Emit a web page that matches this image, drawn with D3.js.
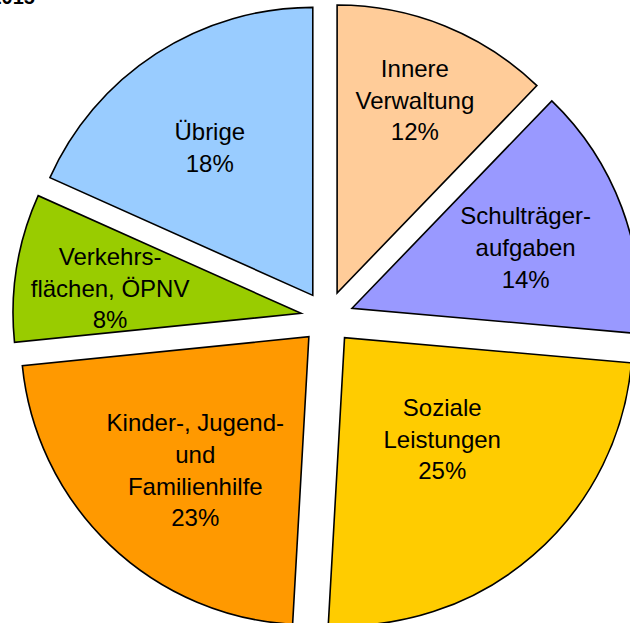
<!DOCTYPE html>
<html>
<head>
<meta charset="utf-8">
<script src="https://cdn.jsdelivr.net/npm/d3@7"></script>
<style>
  body { margin: 0; background: #fff; }
  svg { display: block; }
</style>
</head>
<body>
<svg id="vis" width="630" height="623"></svg>
<script>
// slice data, clockwise from 12 o'clock (shares in %)
const categories = ["Innere Verwaltung", "Schulträgeraufgaben", "Soziale Leistungen",
    "Kinder-, Jugend- und Familienhilfe", "Verkehrsflächen, ÖPNV", "Übrige"];
const shares = [12.2, 14.2, 24.5, 22.5, 8.3, 18.3];
const labelLines = [
    ["Innere", "Verwaltung"],
    ["Schulträger-", "aufgaben"],
    ["Soziale", "Leistungen"],
    ["Kinder-, Jugend-", "und", "Familienhilfe"],
    ["Verkehrs-", "flächen, ÖPNV"],
    ["Übrige"]
];
const colors = ["#ffcc99", "#9999ff", "#ffcc00", "#ff9900", "#99cc00", "#99ccff"];
const titleText = "2015";

// layout
const width = 630, height = 623;
const cx = 327.2, cy = 317.6;
const radius = 288;
const explode = 26.5;
// label placement relative to each slice tip: distance and small angle nudge (deg)
const labelDist = [208, 184, 141, 175.5, 192.6, 180.3];
const labelNudge = [0, 1.2, -3, -3.4, -1.7, -1.9];
const lineHeight = 31.7;

const svg = d3.select("svg#vis");

svg.append("text")
    .attr("x", 35)
    .attr("y", 4)
    .attr("text-anchor", "end")
    .style("font-family", "'Liberation Sans', Arial, sans-serif")
    .style("font-weight", "bold")
    .style("font-size", "20px")
    .text(titleText);

const pie = d3.pie().sort(null).value(d => d.value);
const arcs = pie(shares.map((v, i) => ({ value: v, i })));

const arc = d3.arc().innerRadius(0).outerRadius(radius);

const slices = svg.append("g")
    .attr("transform", `translate(${cx},${cy})`)
    .selectAll("g")
    .data(arcs)
    .enter()
    .append("g")
    .attr("transform", d => {
        let mid = (d.startAngle + d.endAngle) / 2;
        return `translate(${explode * Math.sin(mid)},${-explode * Math.cos(mid)})`;
    });

slices.append("path")
    .attr("d", arc)
    .attr("fill", d => colors[d.data.i])
    .attr("stroke", "#000")
    .attr("stroke-width", 1.6)
    .attr("stroke-linejoin", "miter");

slices.each(function (d) {
    let i = d.data.i;
    let mid = (d.startAngle + d.endAngle) / 2 + labelNudge[i] * Math.PI / 180;
    let dist = labelDist[i];
    let lines = labelLines[i].concat([Math.round(d.data.value) + "%"]);
    let x = dist * Math.sin(mid);
    let y = -dist * Math.cos(mid);
    let top = y - (lines.length - 1) * lineHeight / 2;
    let t = d3.select(this).append("text")
        .attr("text-anchor", "middle")
        .style("font-family", "'Liberation Sans', Arial, sans-serif")
        .style("font-size", "24px")
        .attr("fill", "#000");
    lines.forEach((ln, k) => {
        t.append("tspan")
            .attr("x", x)
            .attr("y", top + k * lineHeight)
            .attr("dy", "0.35em")
            .text(ln);
    });
});
</script>
</body>
</html>
